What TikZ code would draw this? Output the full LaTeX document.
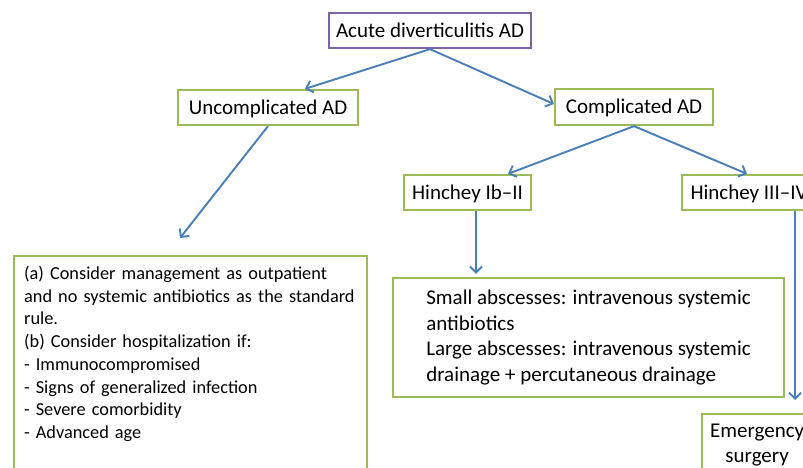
\documentclass[tikz,border=0pt]{standalone}
\usepackage{fontspec}
\setmainfont{Carlito}
\usetikzlibrary{arrows.meta}
\definecolor{boxgreen}{HTML}{9BBB59}
\definecolor{boxpurple}{HTML}{8064A2}
\definecolor{arrowblue}{HTML}{4A7EBB}
\begin{document}
\begin{tikzpicture}[x=1pt,y=-1pt,
  box/.style={draw=boxgreen, line width=2.3pt, fill=white, inner sep=0pt,
    font=\fontsize{21}{25.7}\selectfont},
  onel/.style={text height=13.5pt, text depth=0pt},
  arr/.style={draw=arrowblue, line width=1.9pt,
    -{Straight Barb[length=6pt,width=12pt,line width=1.9pt]}}]
\useasboundingbox (0,0) rectangle (803,468);
\clip (0,0) rectangle (803,468);

\node[box, onel, draw=boxpurple, minimum width=202pt, minimum height=35pt] (top) at (430,30.5) {Acute diverticulitis AD};
\node[box, onel, minimum width=180pt, minimum height=35pt] (unc) at (268,107.5) {Uncomplicated AD};
\node[box, onel, minimum width=158pt, minimum height=36pt] (comp) at (634,107) {Complicated AD};
\node[box, onel, minimum width=127pt, minimum height=35pt] (h1) at (467.5,192.5) {Hinchey Ib–II};
\node[box, onel, minimum width=134pt, minimum height=35pt] (h3) at (749,192.5) {Hinchey III–IV};

\node[box, anchor=north west, text width=333pt, align=left, inner xsep=10pt, inner ysep=10pt,
  font=\fontsize{18.3}{22.7}\selectfont] (adv) at (13,255)
  {\mbox{(a) Consider management as outpatient}\\
   \mbox{and no systemic antibiotics as the standard}\\
   rule.\\
   \mbox{(b) Consider hospitalization if:}\\
   - Immunocompromised\\
   - Signs of generalized infection\\
   - Severe comorbidity\\
   - Advanced age\\[60pt]\mbox{}};

\node[box, minimum width=391pt, minimum height=119pt, align=left] (mid) at (588.5,337.5)
  {Small abscesses: intravenous systemic\\
   antibiotics\\
   Large abscesses: intravenous systemic\\
   drainage + percutaneous drainage};

\node[box, anchor=north west, minimum width=110pt, minimum height=62pt, align=center] (emerg) at (701,413)
  {Emergency\\surgery};

\coordinate (uncend) at (180,238);

\draw[arr] (top.south) -- ([xshift=37pt]unc.north);
\draw[arr] (top.south) -- ([yshift=3pt]comp.west);
\draw[arr] (unc.south) -- (uncend);
\draw[arr] (comp.south) -- ([xshift=40.5pt]h1.north);
\draw[arr] (comp.south) -- ([xshift=-2pt]h3.north);
\draw[arr, shorten >=3pt] ([xshift=8.5pt]h1.south) -- ([xshift=8.5pt]h1.south |- mid.north);
\draw[arr, shorten >=13pt] ([xshift=46pt]h3.south) -- ([xshift=46pt]h3.south |- emerg.north);
\end{tikzpicture}
\end{document}
